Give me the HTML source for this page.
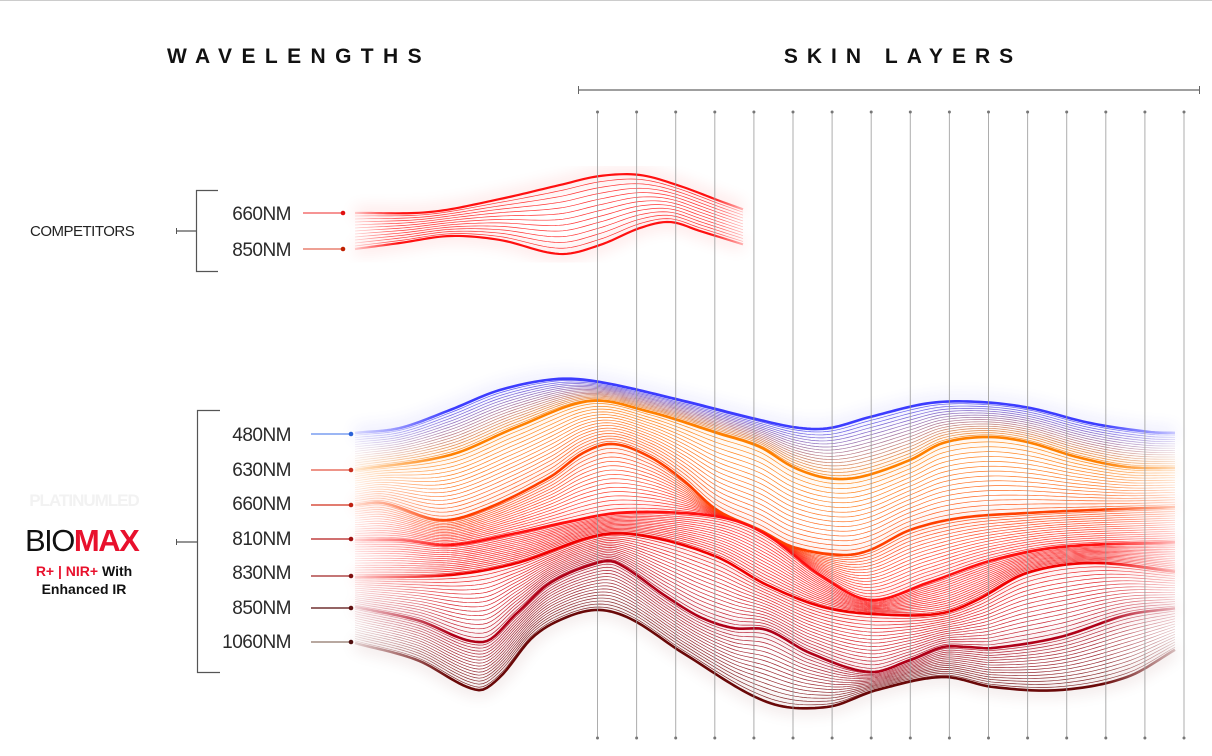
<!DOCTYPE html>
<html><head><meta charset="utf-8"><style>
html,body{margin:0;padding:0;background:#fff;}
body{width:1212px;height:756px;overflow:hidden;position:relative;font-family:"Liberation Sans",Arial,sans-serif;}
svg{position:absolute;left:0;top:0;}
</style></head><body>
<svg id="s" width="1212" height="756" viewBox="0 0 1212 756" xmlns="http://www.w3.org/2000/svg">
<defs>
<linearGradient id="fg" x1="0" x2="1" y1="0" y2="0">
<stop offset="0" stop-color="#fff" stop-opacity="0.1"/>
<stop offset="0.12" stop-color="#fff" stop-opacity="1"/>
<stop offset="0.9" stop-color="#fff" stop-opacity="1"/>
<stop offset="1" stop-color="#fff" stop-opacity="0.15"/>
</linearGradient>
<mask id="m1" maskUnits="userSpaceOnUse" x="350" y="360" width="835" height="360"><rect x="350" y="360" width="835" height="360" fill="url(#fg)"/></mask>
<mask id="m2" maskUnits="userSpaceOnUse" x="350" y="160" width="400" height="110"><rect x="350" y="160" width="400" height="110" fill="url(#fg)"/></mask>
<filter id="bl"><feGaussianBlur stdDeviation="8"/></filter>
</defs>
<line x1="0" y1="0.5" x2="1212" y2="0.5" stroke="#ccc"/>
<text x="299" y="63" text-anchor="middle" font-size="21" font-weight="bold" letter-spacing="9.4" fill="#111">WAVELENGTHS</text>
<text x="903" y="63" text-anchor="middle" font-size="21" font-weight="bold" letter-spacing="9" fill="#111">SKIN LAYERS</text>
<line x1="578" y1="90" x2="1200" y2="90" stroke="#666" stroke-width="1.2"/>
<line x1="578.5" y1="86" x2="578.5" y2="94" stroke="#666"/>
<line x1="1199.5" y1="86" x2="1199.5" y2="94" stroke="#666"/>
<g id="curves"></g>
<g id="vlines"></g>
<path d="M218 190.5H196.5V271.5H218" fill="none" stroke="#555" stroke-width="1.2"/>
<line x1="176" y1="231" x2="196" y2="231" stroke="#555" stroke-width="1.2"/>
<line x1="176.5" y1="228" x2="176.5" y2="234" stroke="#555"/>
<text x="30" y="236" font-size="15" fill="#222" letter-spacing="-0.5">COMPETITORS</text>
<g font-size="19" fill="#2a2a2a" text-anchor="end" letter-spacing="-0.5">
<text x="291" y="220">660NM</text>
<text x="291" y="256">850NM</text>
</g>
<line x1="303" y1="213" x2="343" y2="213" stroke="#f37070" stroke-width="1.5"/><circle cx="343" cy="213" r="2.3" fill="#e01010"/>
<line x1="303" y1="249" x2="343" y2="249" stroke="#e88070" stroke-width="1.5"/><circle cx="343" cy="249" r="2.3" fill="#c02000"/>
<path d="M220 410.5H197.5V672.5H220" fill="none" stroke="#555" stroke-width="1.2"/>
<line x1="176" y1="542" x2="197" y2="542" stroke="#555" stroke-width="1.2"/>
<line x1="176.5" y1="539" x2="176.5" y2="545" stroke="#555"/>
<text x="84" y="506" text-anchor="middle" font-size="17" font-weight="bold" fill="#f2f2f2" letter-spacing="-1">PLATINUMLED</text>
<text x="25" y="551" font-size="31" fill="#111" letter-spacing="-1.5">BIO<tspan fill="#e8112d" font-weight="bold">MAX</tspan></text>
<text x="84" y="576" text-anchor="middle" font-size="14" font-weight="bold" fill="#111"><tspan fill="#e8112d">R+ | NIR+</tspan> With</text>
<text x="84" y="594" text-anchor="middle" font-size="14" font-weight="bold" fill="#111">Enhanced IR</text>
<g font-size="19" fill="#2a2a2a" text-anchor="end" letter-spacing="-0.5">
<text x="291" y="441">480NM</text><text x="291" y="476">630NM</text><text x="291" y="510">660NM</text>
<text x="291" y="545">810NM</text><text x="291" y="579">830NM</text><text x="291" y="614">850NM</text><text x="291" y="648">1060NM</text>
</g>
<g stroke-width="1.5">
<line x1="311" y1="434" x2="351" y2="434" stroke="#7a9ef0"/><circle cx="351" cy="434" r="2.3" fill="#2a62d8"/>
<line x1="311" y1="470" x2="351" y2="470" stroke="#e87060"/><circle cx="351" cy="470" r="2.3" fill="#c83020"/>
<line x1="311" y1="505" x2="351" y2="505" stroke="#d85040"/><circle cx="351" cy="505" r="2.3" fill="#c02010"/>
<line x1="311" y1="539" x2="351" y2="539" stroke="#c04040"/><circle cx="351" cy="539" r="2.3" fill="#a01010"/>
<line x1="311" y1="576" x2="351" y2="576" stroke="#b04848"/><circle cx="351" cy="576" r="2.3" fill="#801010"/>
<line x1="311" y1="608" x2="351" y2="608" stroke="#703030"/><circle cx="351" cy="608" r="2.3" fill="#601010"/>
<line x1="311" y1="642" x2="351" y2="642" stroke="#b8a8a0" stroke-width="2"/><circle cx="351" cy="642" r="2.3" fill="#501010"/>
</g>
</svg>
<script>
(function(){
var NS="http://www.w3.org/2000/svg";
var cg=document.getElementById("curves"), vg=document.getElementById("vlines");
function pts(a){var r=[];for(var i=0;i<a.length;i+=2)r.push([a[i],a[i+1]]);return r;}
function evalAt(p,x){
  if(x<=p[0][0])return p[0][1]; if(x>=p[p.length-1][0])return p[p.length-1][1];
  for(var i=0;i<p.length-1;i++){if(x<=p[i+1][0])break;}
  var p0=p[Math.max(i-1,0)],p1=p[i],p2=p[i+1],p3=p[Math.min(i+2,p.length-1)];
  var t=(x-p1[0])/(p2[0]-p1[0]);
  var m1=(p2[1]-p0[1])/(p2[0]-p0[0])*(p2[0]-p1[0]);
  var m2=(p3[1]-p1[1])/(p3[0]-p1[0])*(p2[0]-p1[0]);
  var t2=t*t,t3=t2*t;
  return (2*t3-3*t2+1)*p1[1]+(t3-2*t2+t)*m1+(-2*t3+3*t2)*p2[1]+(t3-t2)*m2;
}
function hex(c){return [parseInt(c.substr(1,2),16),parseInt(c.substr(3,2),16),parseInt(c.substr(5,2),16)];}
function mix(a,b,t){a=hex(a);b=hex(b);return "rgb("+a.map(function(v,i){return Math.round(v+(b[i]-v)*t)}).join(",")+")";}
function path(f,x0,x1){var d="";for(var x=x0;x<=x1;x+=4){d+=(x==x0?"M":"L")+x+" "+f(x).toFixed(2);}return d;}
function mk(d,col,w,op,parent){var e=document.createElementNS(NS,"path");e.setAttribute("d",d);e.setAttribute("fill","none");e.setAttribute("stroke",col);e.setAttribute("stroke-width",w);if(op!=null)e.setAttribute("stroke-opacity",op);parent.appendChild(e);return e;}
function group(mask){var g=document.createElementNS(NS,"g");if(mask)g.setAttribute("mask","url(#"+mask+")");cg.appendChild(g);return g;}
function draw(keys,cols,n,x0,x1,mask,thick){
  var glow=group(null);glow.setAttribute("filter","url(#bl)");glow.setAttribute("opacity","0.12");
  for(var k=0;k<keys.length;k++)mk(path(function(x){return evalAt(keys[k],x)},x0,x1),cols[k],10,null,glow);
  var g=group(mask);
  for(var k=0;k<keys.length-1;k++){
    for(var j=1;j<n;j++){
      var t=j/n;(function(a,b,t){
        mk(path(function(x){return evalAt(a,x)*(1-t)+evalAt(b,x)*t},x0,x1),mix(cols[k],cols[k+1],t),0.7,0.85,g);
      })(keys[k],keys[k+1],t);
    }
  }
  var g2=group(mask);
  for(var k=0;k<keys.length;k++)mk(path(function(x){return evalAt(keys[k],x)},x0,x1),cols[k],thick,null,g2);
}
draw([pts([355,213,430,212,500,199,560,185,600,176,640,175,680,186,720,201,745,210]),
      pts([355,249,400,243,450,236,500,240,560,254,600,245,640,228,670,222,700,231,745,245])],
     ["#ff1010","#ff1010"],12,355,745,"m2",2.2);
var K=[
pts([355,433,400,428,450,410,500,390,557,379,600,382,680,400,760,420,800,428,830,428,870,417,930,403,980,402,1030,408,1090,423,1150,432,1178,433]),
pts([355,470,450,455,517,427,590,401,650,412,717,433,760,447,793,467,827,478,860,477,910,460,943,443,987,437,1027,442,1077,457,1127,467,1178,468]),
pts([355,505,383,503,440,520,483,510,550,477,583,453,613,444,650,457,683,480,717,510,760,530,793,547,843,555,870,550,910,530,960,518,1027,513,1093,510,1178,507]),
pts([355,540,400,540,450,545,517,533,567,522,617,513,683,513,733,520,770,537,820,575,870,600,927,583,993,560,1060,547,1178,542]),
pts([355,577,450,575,517,563,600,535,650,537,717,557,767,585,827,608,893,615,943,613,977,600,1027,573,1093,563,1178,572]),
pts([355,607,417,620,483,642,517,613,550,583,597,563,617,563,667,597,700,617,733,628,767,630,810,653,870,672,910,660,943,647,967,647,993,648,1060,637,1127,615,1178,608]),
pts([355,643,417,660,477,690,500,677,533,637,567,617,600,610,633,620,683,653,767,702,827,707,877,690,943,677,993,687,1060,690,1127,677,1178,648])
];
draw(K,["#3c3cff","#ff8000","#ff4000","#ff1010","#f00000","#b00018","#6a0808"],16,355,1178,"m1",2.6);
for(var i=0;i<16;i++){var x=597.5+i*39.1;
  var l=document.createElementNS(NS,"line");l.setAttribute("x1",x);l.setAttribute("x2",x);l.setAttribute("y1",112);l.setAttribute("y2",738);l.setAttribute("stroke","#999");l.setAttribute("stroke-opacity","0.8");l.setAttribute("stroke-width","1");vg.appendChild(l);
  [112,738].forEach(function(y){var c=document.createElementNS(NS,"circle");c.setAttribute("cx",x);c.setAttribute("cy",y);c.setAttribute("r",1.5);c.setAttribute("fill","#777");vg.appendChild(c);});
}
})();
</script>
</body></html>
